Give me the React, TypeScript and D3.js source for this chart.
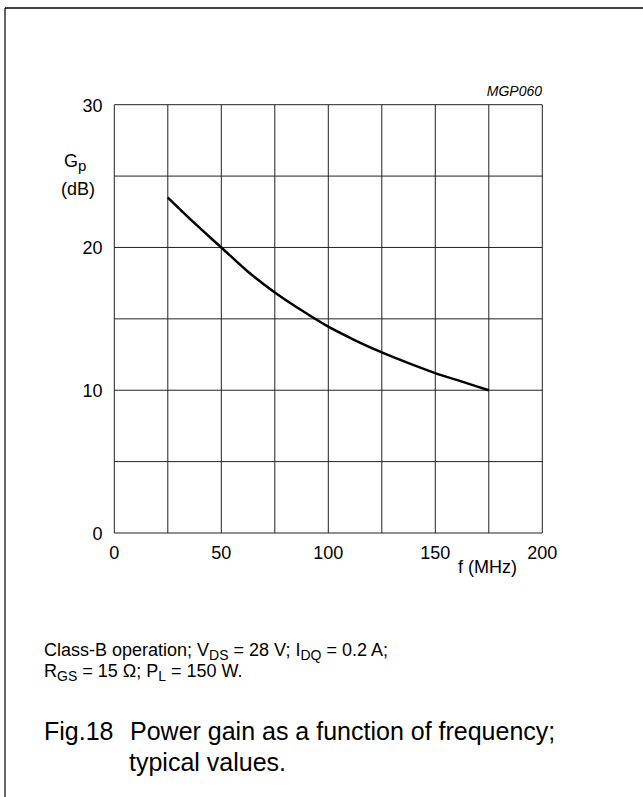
import React from "react";
import * as d3 from "d3";

const freqMHz = [25, 37.5, 50, 62.5, 75, 87.5, 100, 112.5, 125, 137.5, 150, 162.5, 175];
const gainDb = [23.5, 21.7, 20.0, 18.3, 16.85, 15.6, 14.45, 13.5, 12.65, 11.9, 11.2, 10.6, 10.0];
const xTicks = [0, 50, 100, 150, 200];
const yTicks = [0, 10, 20, 30];
const xGrid = [0, 25, 50, 75, 100, 125, 150, 175, 200];
const yGrid = [0, 5, 10, 15, 20, 25, 30];

const W = 643;
const H = 797;
const FONT = "'Liberation Sans', Arial, Helvetica, sans-serif";

export default function App() {
  const x = d3.scaleLinear().domain([0, 200]).range([114.3, 542.3]);
  const y = d3.scaleLinear().domain([0, 30]).range([533, 104.7]);
  const pts: [number, number][] = freqMHz.map((f, i) => [f, gainDb[i]]);
  const line = d3
    .line<[number, number]>()
    .x((d) => x(d[0]))
    .y((d) => y(d[1]))
    .curve(d3.curveMonotoneX);

  return (
    <svg
      width={W}
      height={H}
      style={{ position: "absolute", left: 0, top: 0, background: "#fff" }}
      fontFamily={FONT}
    >
      <rect x={0} y={0} width={W} height={H} fill="#fff" />
      {/* frame */}
      <line x1={5} y1={8} x2={W} y2={8} stroke="#000" strokeWidth={1.5} />
      <line x1={5} y1={8} x2={5} y2={H} stroke="#000" strokeWidth={1.2} />

      {/* grid */}
      {xGrid.map((g) => (
        <line key={"vx" + g} x1={x(g)} x2={x(g)} y1={y(0)} y2={y(30)} stroke="#222" strokeWidth={1} />
      ))}
      {yGrid.map((g) => (
        <line key={"hy" + g} x1={x(0)} x2={x(200)} y1={y(g)} y2={y(g)} stroke="#222" strokeWidth={1} />
      ))}

      {/* curve */}
      <path d={line(pts) || ""} fill="none" stroke="#000" strokeWidth={2.5} />

      {/* y tick labels */}
      {yTicks.map((t) => (
        <text key={"yt" + t} x={102.5} y={y(t) + 7} textAnchor="end" fontSize={18}>
          {t}
        </text>
      ))}
      {/* x tick labels */}
      {xTicks.map((t) => (
        <text key={"xt" + t} x={x(t)} y={559} textAnchor="middle" fontSize={18}>
          {t}
        </text>
      ))}

      {/* axis titles */}
      <text x={64} y={167} fontSize={18}>
        G
        <tspan fontSize={15} dy={4}>p</tspan>
      </text>
      <text x={78} y={195} textAnchor="middle" fontSize={18}>
        (dB)
      </text>
      <text x={458} y={573} fontSize={18}>
        f (MHz)
      </text>

      {/* code */}
      <text x={542} y={96} textAnchor="end" fontSize={14} fontStyle="italic">
        MGP060
      </text>

      {/* footnote */}
      <text x={44} y={656} fontSize={18}>
        Class-B operation; V<tspan fontSize={14} dy={4}>DS</tspan>
        <tspan dy={-4}> = 28 V; I</tspan>
        <tspan fontSize={14} dy={4}>DQ</tspan>
        <tspan dy={-4}> = 0.2 A;</tspan>
      </text>
      <text x={44} y={677} fontSize={18}>
        R<tspan fontSize={14} dy={4}>GS</tspan>
        <tspan dy={-4}> = 15 Ω; P</tspan>
        <tspan fontSize={14} dy={4}>L</tspan>
        <tspan dy={-4}> = 150 W.</tspan>
      </text>

      {/* caption */}
      <text x={44} y={740} fontSize={25}>
        Fig.18
      </text>
      <text x={130} y={740} fontSize={25}>
        Power gain as a function of frequency;
      </text>
      <text x={129} y={771} fontSize={25}>
        typical values.
      </text>
    </svg>
  );
}
